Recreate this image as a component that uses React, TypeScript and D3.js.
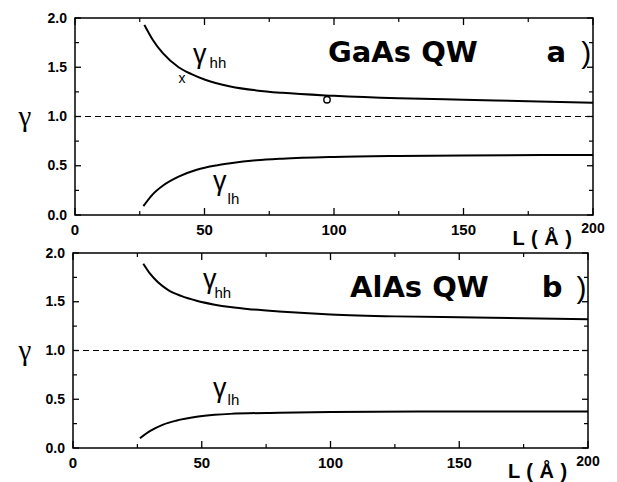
import React from "react";
import * as d3 from "d3";

// panel (a) GaAs QW
const gaasHhL = [26.8, 30, 34, 40, 45, 50, 60, 70, 80, 100, 125, 150, 175, 200];
const gaasHh = [1.93, 1.78, 1.64, 1.5, 1.43, 1.375, 1.305, 1.265, 1.24, 1.21, 1.185, 1.17, 1.155, 1.14];
const gaasLhL = [26.4, 30, 34, 40, 47, 55, 60, 70, 80, 100, 125, 150, 200];
const gaasLh = [0.09, 0.21, 0.3, 0.39, 0.46, 0.505, 0.525, 0.555, 0.572, 0.59, 0.6, 0.605, 0.61];
// experimental points in panel (a)
const gaasCrossL = [41.3];
const gaasCross = [1.39];
const gaasCircleL = [97.3];
const gaasCircle = [1.17];

// panel (b) AlAs QW
const alasHhL = [27.3, 30, 33, 37, 42, 48, 55, 61, 70, 80, 100, 125, 150, 175, 200];
const alasHh = [1.89, 1.785, 1.7, 1.62, 1.56, 1.51, 1.47, 1.445, 1.42, 1.4, 1.37, 1.35, 1.34, 1.33, 1.32];
const alasLhL = [26, 30, 35, 40, 48, 55, 61, 80, 100, 150, 200];
const alasLh = [0.1, 0.175, 0.24, 0.28, 0.32, 0.34, 0.35, 0.362, 0.37, 0.375, 0.375];

const xTicks = [0, 50, 100, 150];
const xMinor = [25, 75, 125, 175];
const yTicks = [0, 0.5, 1.0, 1.5, 2.0];
const yMinor = [0.25, 0.75, 1.25, 1.75];

const sans = "'Liberation Sans', Arial, sans-serif";
const wide = "'DejaVu Sans', sans-serif";

type Label = { L: number; g: number; dx: number; dy: number };

type PanelProps = {
  box: { left: number; right: number; top: number; bottom: number };
  title: string;
  titleX: number;
  tag: string;
  hhL: number[];
  hh: number[];
  lhL: number[];
  lh: number[];
  hhLabel: Label;
  lhLabel: Label;
  crosses?: [number[], number[]];
  circles?: [number[], number[]];
};

const Panel = ({ box, title, titleX, tag, hhL, hh, lhL, lh, hhLabel, lhLabel, crosses, circles }: PanelProps) => {
  const x = d3.scaleLinear().domain([0, 200]).range([box.left, box.right]);
  const y = d3.scaleLinear().domain([0, 2]).range([box.bottom, box.top]);
  const line = d3
    .line<[number, number]>()
    .x(d => x(d[0]))
    .y(d => y(d[1]))
    .curve(d3.curveMonotoneX);
  const hhPts = hhL.map((l, i) => [l, hh[i]] as [number, number]);
  const lhPts = lhL.map((l, i) => [l, lh[i]] as [number, number]);

  return (
    <g>
      {/* frame */}
      <rect x={box.left} y={box.top} width={box.right - box.left} height={box.bottom - box.top}
        fill="none" stroke="#000" strokeWidth={1.5} />
      {/* x ticks bottom and top */}
      {xTicks.concat([200]).map(t => (
        <g key={"xt" + t}>
          <line x1={x(t)} x2={x(t)} y1={box.bottom} y2={box.bottom - 7} stroke="#000" strokeWidth={1.3} />
          <line x1={x(t)} x2={x(t)} y1={box.top} y2={box.top + 7} stroke="#000" strokeWidth={1.3} />
        </g>
      ))}
      {xMinor.map(t => (
        <g key={"xm" + t}>
          <line x1={x(t)} x2={x(t)} y1={box.bottom} y2={box.bottom - 4} stroke="#000" strokeWidth={1.2} />
          <line x1={x(t)} x2={x(t)} y1={box.top} y2={box.top + 4} stroke="#000" strokeWidth={1.2} />
        </g>
      ))}
      {yTicks.map(t => (
        <g key={"yt" + t}>
          <line x1={box.left} x2={box.left + 6} y1={y(t)} y2={y(t)} stroke="#000" strokeWidth={1.3} />
          <line x1={box.right} x2={box.right - 6} y1={y(t)} y2={y(t)} stroke="#000" strokeWidth={1.3} />
        </g>
      ))}
      {yMinor.map(t => (
        <g key={"ym" + t}>
          <line x1={box.left} x2={box.left + 4} y1={y(t)} y2={y(t)} stroke="#000" strokeWidth={1.2} />
          <line x1={box.right} x2={box.right - 4} y1={y(t)} y2={y(t)} stroke="#000" strokeWidth={1.2} />
        </g>
      ))}
      {/* tick labels */}
      {yTicks.map(t => (
        <text key={"yl" + t} x={box.left - 8} y={y(t) + 4.5} textAnchor="end"
          fontFamily={sans} fontWeight="bold" fontSize={14}>{d3.format(".1f")(t)}</text>
      ))}
      {xTicks.map(t => (
        <text key={"xl" + t} x={x(t)} y={box.bottom + 20} textAnchor="middle"
          fontFamily={sans} fontWeight="bold" fontSize={15}>{t}</text>
      ))}
      <text x={x(200)} y={box.bottom + 18} textAnchor="middle" fontFamily={sans} fontWeight="bold" fontSize={14}>200</text>
      <text x={x(180.5)} y={box.bottom + 30} textAnchor="middle" fontFamily={sans} fontWeight="bold"
        fontSize={20} letterSpacing={0.5}>L ( Å )</text>
      {/* axis label */}
      <text x={25} y={y(1) + 9} textAnchor="middle" fontFamily="'Liberation Serif', 'Times New Roman', serif" fontSize={29}>γ</text>
      {/* reference line */}
      <line x1={box.left} x2={box.right} y1={y(1)} y2={y(1)} stroke="#000" strokeWidth={1} strokeDasharray="6,4" />
      {/* curves */}
      <path d={line(hhPts) || ""} fill="none" stroke="#000" strokeWidth={2} />
      <path d={line(lhPts) || ""} fill="none" stroke="#000" strokeWidth={2} />
      {/* curve labels */}
      <text x={x(hhLabel.L)} y={y(hhLabel.g)} fontFamily={sans} fontSize={27}>
        γ<tspan fontSize={15} dx={hhLabel.dx} dy={hhLabel.dy}>hh</tspan>
      </text>
      <text x={x(lhLabel.L)} y={y(lhLabel.g)} fontFamily={sans} fontSize={27}>
        γ<tspan fontSize={15} dx={lhLabel.dx} dy={lhLabel.dy}>lh</tspan>
      </text>
      {/* title */}
      <text x={titleX} y={box.top + 44} fontFamily={wide} fontWeight="bold" fontSize={29}>{title}</text>
      <text x={x(182)} y={box.top + 44} fontFamily={wide} fontWeight="bold" fontSize={29}>{tag}</text>
      <text x={x(195.5)} y={box.top + 45} fontFamily={sans} fontSize={30}>)</text>
      {crosses && crosses[0].map((l, i) => (
        <text key={"c" + i} x={x(l)} y={y(crosses[1][i]) + 5} textAnchor="middle" fontFamily={sans} fontSize={14}>x</text>
      ))}
      {circles && circles[0].map((l, i) => (
        <circle key={"o" + i} cx={x(l)} cy={y(circles[1][i])} r={3.2} fill="none" stroke="#000" strokeWidth={1.4} />
      ))}
    </g>
  );
};

const App = () => (
  <svg width={617} height={482} style={{ position: "absolute", left: 0, top: 0, background: "#fff" }}>
    <Panel
      box={{ left: 75, right: 593, top: 18, bottom: 215 }}
      title="GaAs QW" titleX={328} tag="a"
      hhL={gaasHhL} hh={gaasHh} lhL={gaasLhL} lh={gaasLh}
      hhLabel={{ L: 45.6, g: 1.543, dx: 3, dy: 5 }}
      lhLabel={{ L: 53.3, g: 0.254, dx: 1, dy: 14 }}
      crosses={[gaasCrossL, gaasCross]} circles={[gaasCircleL, gaasCircle]}
    />
    <Panel
      box={{ left: 73, right: 588, top: 253, bottom: 448 }}
      title="AlAs QW" titleX={350} tag="b"
      hhL={alasHhL} hh={alasHh} lhL={alasLhL} lh={alasLh}
      hhLabel={{ L: 50.5, g: 1.641, dx: -2, dy: 10 }}
      lhLabel={{ L: 54.4, g: 0.523, dx: 1, dy: 8 }}
    />
  </svg>
);

export default App;
